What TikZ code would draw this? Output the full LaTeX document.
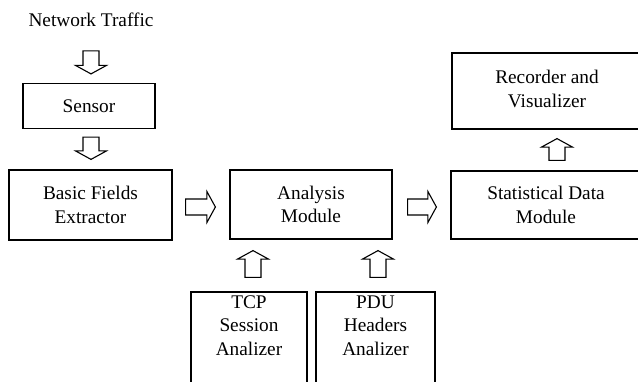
\documentclass[tikz,border=0pt]{standalone}
\usepackage{fontspec}
\setmainfont{Liberation Serif}
\usetikzlibrary{calc}

\tikzset{
  box/.style={draw, line width=1.2pt, inner sep=0pt},
  lbl/.style={align=center, font=\fontsize{19.3}{23.5}\selectfont},
  fatarr/.style={draw, line width=1.1pt, fill=white, line join=miter},
}
% hollow block arrow from #1 to #2
\newcommand{\fatarrow}[2]{%
  \path ($(#2)!8.5pt!(#1)$) coordinate (neck);
  \draw[fatarr] ($(#1)!8pt!90:(#2)$) -- ($(neck)!8pt!90:(#2)$) -- ($(neck)!15.5pt!90:(#2)$) -- (#2)
    -- ($(neck)!15.5pt!-90:(#2)$) -- ($(neck)!8pt!-90:(#2)$) -- ($(#1)!8pt!-90:(#2)$) -- cycle;}

\begin{document}
\begin{tikzpicture}[x=1pt, y=-1pt]
    \useasboundingbox (0,0) rectangle (638,382);
    \clip (0,0) rectangle (638,382);

    % Input
    \node[lbl] (traffic) at (91,20) {Network Traffic};

    % Sensor
    \node[box, minimum width=132pt, minimum height=45pt] (sensor) at (89,106) {};
    \node[lbl] at (sensor) {Sensor};

    % Basic fields extractor
    \node[box, minimum width=163pt, minimum height=70pt] (basic) at (90.5,205) {};
    \node[lbl] at (basic) {Basic Fields\\Extractor};

    % Analysis module
    \node[box, minimum width=162pt, minimum height=69pt] (analysis) at (311,204.5) {};
    \node[lbl] at (analysis) {Analysis\\Module};

    % Statistical data module
    \node[box, minimum width=190pt, minimum height=68pt] (stats) at (546,205) {};
    \node[lbl] at (stats) {Statistical Data\\Module};

    % Recorder and visualizer
    \node[box, minimum width=190pt, minimum height=76pt] (recorder) at (547,91) {};
    \node[lbl] at ($(recorder)+(0,-2)$) {Recorder and\\Visualizer};

    % Analizers
    \node[box, minimum width=116pt, minimum height=120pt] (tcp) at (249,352) {};
    \node[lbl] at ($(tcp.north)+(0,34)$) {TCP\\Session\\Analizer};
    \node[box, minimum width=119pt, minimum height=120pt] (pdu) at (375.5,352) {};
    \node[lbl] at ($(pdu.north)+(0,34)$) {PDU\\Headers\\Analizer};

    % Arrows
    \coordinate (a1s) at ($(sensor.north)+(2,-32)$);
    \coordinate (a1e) at ($(sensor.north)+(2,-9)$);
    \fatarrow{a1s}{a1e}
    \coordinate (a2s) at ($(sensor.south)+(2,8)$);
    \coordinate (a2e) at ($(basic.north)+(0.5,-10)$);
    \fatarrow{a2s}{a2e}
    \coordinate (a3s) at ($(basic.east)+(13,2)$);
    \coordinate (a3e) at ($(analysis.west)+(-14,2.5)$);
    \fatarrow{a3s}{a3e}
    \coordinate (a4s) at ($(analysis.east)+(15,2.5)$);
    \coordinate (a4e) at ($(stats.west)+(-14,2)$);
    \fatarrow{a4s}{a4e}
    \coordinate (a5s) at ($(stats.north)+(11,-10)$);
    \coordinate (a5e) at ($(recorder.south)+(10,9)$);
    \fatarrow{a5s}{a5e}
    \coordinate (a6s) at ($(tcp.north)+(4,-14)$);
    \coordinate (a6e) at ($(analysis.south)+(-58,11)$);
    \fatarrow{a6s}{a6e}
    \coordinate (a7s) at ($(pdu.north)+(2.5,-14)$);
    \coordinate (a7e) at ($(analysis.south)+(67,11)$);
    \fatarrow{a7s}{a7e}
\end{tikzpicture}
\end{document}
